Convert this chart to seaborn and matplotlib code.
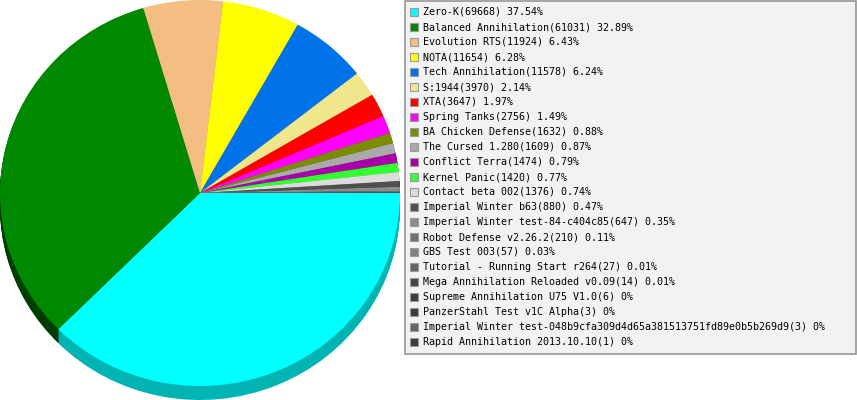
import matplotlib
matplotlib.use("Agg")
import matplotlib.pyplot as plt
from matplotlib.patches import Rectangle
import seaborn as sns

# ---- data ----
names = [
    "Zero-K", "Balanced Annihilation", "Evolution RTS", "NOTA", "Tech Annihilation",
    "S:1944", "XTA", "Spring Tanks", "BA Chicken Defense", "The Cursed 1.280",
    "Conflict Terra", "Kernel Panic", "Contact beta 002", "Imperial Winter b63",
    "Imperial Winter test-84-c404c85", "Robot Defense v2.26.2", "GBS Test 003",
    "Tutorial - Running Start r264", "Mega Annihilation Reloaded v0.09",
    "Supreme Annihilation U75 V1.0", "PanzerStahl Test v1C Alpha",
    "Imperial Winter test-048b9cfa309d4d65a381513751fd89e0b5b269d9",
    "Rapid Annihilation 2013.10.10",
]
counts = [69668, 61031, 11924, 11654, 11578, 3970, 3647, 2756, 1632, 1609,
          1474, 1420, 1376, 880, 647, 210, 57, 27, 14, 6, 3, 3, 1]
pct_labels = ["37.54%", "32.89%", "6.43%", "6.28%", "6.24%", "2.14%", "1.97%",
              "1.49%", "0.88%", "0.87%", "0.79%", "0.77%", "0.74%", "0.47%",
              "0.35%", "0.11%", "0.03%", "0.01%", "0.01%", "0%", "0%", "0%", "0%"]
hex_colors = ["#00ffff", "#008800", "#f4be82", "#ffff00", "#0073eb", "#f0e68c",
              "#ff0000", "#ff00ff", "#7b8c00", "#aaaaaa", "#aa00aa", "#33ff33",
              "#dcdcdc", "#505050", "#8c8c8c", "#6e6e6e", "#828282", "#646464",
              "#464646", "#3c3c3c", "#3c3c3c", "#646464", "#3c3c3c"]

sns.set_style("white")
plt.rcParams["font.family"] = ["DejaVu Sans Mono", "DejaVu Sans"]

W, H = 857, 400
fig = plt.figure(figsize=(W / 100, H / 100), dpi=100)
fig.patch.set_facecolor("white")

top_colors = sns.color_palette(hex_colors)


def darker(c, amt=75 / 255):
    return tuple(max(0.0, v - amt) for v in c)


side_colors = [darker(c) for c in top_colors]

# pie axes
PIE_W = 400
RY = 193.0
DEPTH = 14
ax = fig.add_axes([0, 0, PIE_W / W, 1])
for k in range(DEPTH, 0, -1):
    ax.pie(counts, colors=side_colors, startangle=0, counterclock=False,
           radius=1, center=(0, -k / RY),
           wedgeprops=dict(linewidth=0, antialiased=True))
ax.pie(counts, colors=top_colors, startangle=0, counterclock=False,
       radius=1, center=(0, 0),
       wedgeprops=dict(linewidth=0, antialiased=True))
ax.set_aspect("auto")
ax.set_xlim(-1.0, 1.0)
ax.set_ylim(1 - H / RY, 1.0)
ax.axis("off")

# legend box
def fx(x):
    return x / W


def fy(y):
    return 1 - y / H


box = Rectangle((fx(405), fy(354)), fx(856) - fx(405), fy(0.5) - fy(354),
                transform=fig.transFigure, facecolor="#f2f2f2",
                edgecolor="#969696", linewidth=1.2, zorder=1)
fig.patches.append(box)

for i, (n, c, p) in enumerate(zip(names, counts, pct_labels)):
    yc = 12 + 15 * i
    sq = Rectangle((fx(410), fy(yc + 4)), fx(418) - fx(410), fy(yc - 4) - fy(yc + 4),
                   transform=fig.transFigure, facecolor=top_colors[i],
                   edgecolor="#9a9a9a", linewidth=0.8, zorder=2)
    fig.patches.append(sq)
    fig.text(fx(423), fy(yc), f"{n}({c}) {p}", fontsize=7.2, color="black",
             va="center", ha="left", zorder=3)

fig.savefig("out.png", dpi=100)
